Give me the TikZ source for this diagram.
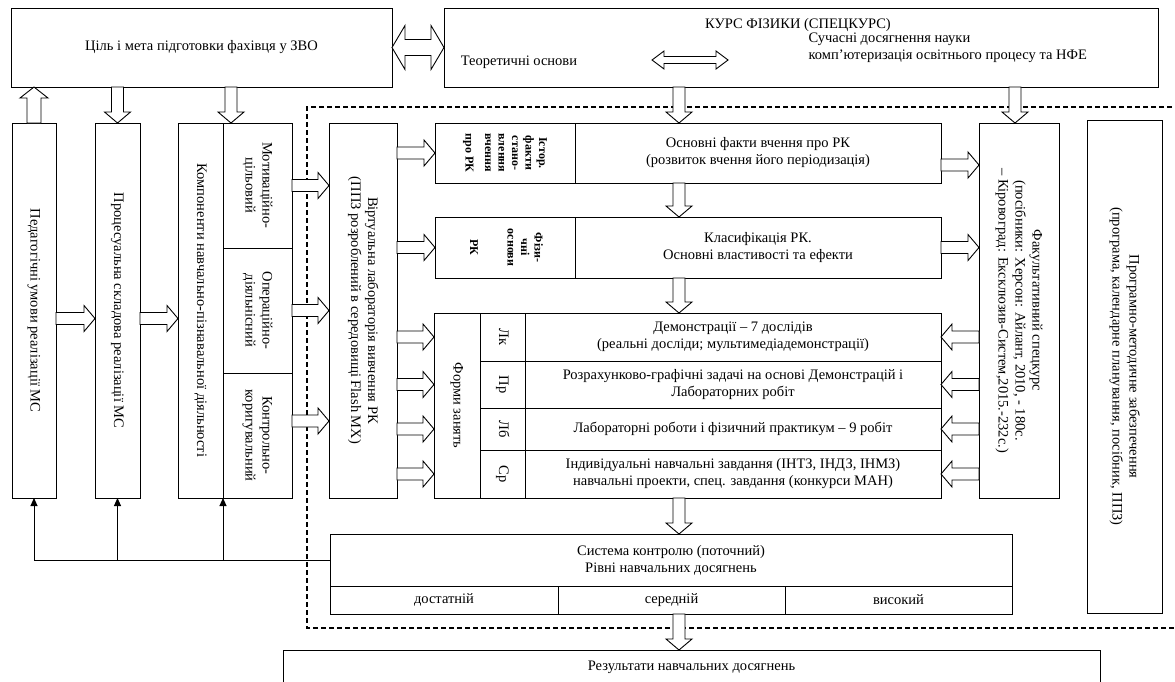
\documentclass[tikz,border=0pt]{standalone}
\usepackage{fontspec}
\setmainfont{Liberation Serif}
\usepackage{graphicx}
\usetikzlibrary{arrows.meta,calc}
% hollow arrow sizes: shaft half width, head half width, head length
\newcommand{\arW}{6}
\newcommand{\arH}{13}
\newcommand{\arL}{11}
\newcommand{\vtxt}[1]{\rotatebox{-90}{\begin{tabular}{@{}c@{}}#1\end{tabular}}}

\begin{document}
\begin{tikzpicture}[
  x=1pt, y=-1pt,
  every node/.style={font=\fontsize{14.5}{17}\selectfont},
  box/.style={draw, line width=1pt, inner sep=2pt, outer sep=0pt, align=center},
  wh/.style 2 args={minimum width=#1pt, minimum height=#2pt},
  small/.style={font=\bfseries\fontsize{12}{13.5}\selectfont},
  frame/.style={line width=1.2pt, dash pattern=on 5pt off 3pt},
  fb/.style={line width=0.9pt, -{Triangle[length=8pt, width=7pt]}},
  aw/.code={\def\arW{#1}}, ah/.code={\def\arH{#1}}, al/.code={\def\arL{#1}},
  blockarrow/.style={draw, fill=white, line width=0.9pt, line join=miter,
    to path={let \p1=(\tikztostart), \p2=(\tikztotarget),
      \n1={veclen(\x2-\x1,\y2-\y1)}, \n2={(\x2-\x1)/\n1}, \n3={(\y2-\y1)/\n1},
      \n4={\n1-\arL} in
      ({\x1-\arW*(\n3)},{\y1+\arW*(\n2)})
      -- ({\x1+\n4*(\n2)-\arW*(\n3)},{\y1+\n4*(\n3)+\arW*(\n2)})
      -- ({\x1+\n4*(\n2)-\arH*(\n3)},{\y1+\n4*(\n3)+\arH*(\n2)})
      -- (\p2)
      -- ({\x1+\n4*(\n2)+\arH*(\n3)},{\y1+\n4*(\n3)-\arH*(\n2)})
      -- ({\x1+\n4*(\n2)+\arW*(\n3)},{\y1+\n4*(\n3)-\arW*(\n2)})
      -- ({\x1+\arW*(\n3)},{\y1-\arW*(\n2)}) -- cycle}},
  dblockarrow/.style={draw, fill=white, line width=0.9pt, line join=miter,
    to path={let \p1=(\tikztostart), \p2=(\tikztotarget),
      \n1={veclen(\x2-\x1,\y2-\y1)}, \n2={(\x2-\x1)/\n1}, \n3={(\y2-\y1)/\n1},
      \n4={\n1-\arL} in
      (\p1)
      -- ({\x1+\arL*(\n2)-\arH*(\n3)},{\y1+\arL*(\n3)+\arH*(\n2)})
      -- ({\x1+\arL*(\n2)-\arW*(\n3)},{\y1+\arL*(\n3)+\arW*(\n2)})
      -- ({\x1+\n4*(\n2)-\arW*(\n3)},{\y1+\n4*(\n3)+\arW*(\n2)})
      -- ({\x1+\n4*(\n2)-\arH*(\n3)},{\y1+\n4*(\n3)+\arH*(\n2)})
      -- (\p2)
      -- ({\x1+\n4*(\n2)+\arH*(\n3)},{\y1+\n4*(\n3)-\arH*(\n2)})
      -- ({\x1+\n4*(\n2)+\arW*(\n3)},{\y1+\n4*(\n3)-\arW*(\n2)})
      -- ({\x1+\arL*(\n2)+\arW*(\n3)},{\y1+\arL*(\n3)-\arW*(\n2)})
      -- ({\x1+\arL*(\n2)+\arH*(\n3)},{\y1+\arL*(\n3)-\arH*(\n2)})
      -- cycle}}
]
  \fill[white] (0,0) rectangle (1175,681);
  \useasboundingbox (0,0) rectangle (1175,681);
  % dashed frame
  \draw[frame] (1180,107) -- (307,107) -- (307,628) -- (1180,628);
  % top row
  \node[box, wh={381}{79}] (goal) at (201.5,47.5) {Ціль і мета підготовки фахівця у ЗВО};
  \node[box, wh={714}{79}] (course) at (801,47.5) {};
  \node (ctitle) at (798,25) {КУРС ФІЗИКИ (СПЕЦКУРС)};
  \node (theory) at (519,62) {Теоретичні основи};
  \node[align=left, anchor=west] (modern) at (805,48) {Сучасні досягнення науки\\комп'ютеризація освітнього процесу та НФЕ};
  \coordinate (da1) at (652,60);
  \coordinate (da2) at (728,60);
  % left column
  \node[box, wh={44}{375}] (ped) at (34,310.5) {\vtxt{Педагогічні умови реалізації МС}};
  \node[box, wh={45}{375}] (proc) at (117.5,310.5) {\vtxt{Процесуальна складова реалізації МС}};
  \node[box, wh={45}{375}] (comp) at (200.5,310.5) {\vtxt{Компоненти навчально-пізнавальної діяльності}};
  \node[box, wh={69}{125}] (motiv) at (257.5,185.5) {\vtxt{Мотиваційно-\\цільовий}};
  \node[box, wh={69}{125}] (oper) at (257.5,310.5) {\vtxt{Операційно-\\діяльнісний}};
  \node[box, wh={69}{125}] (contr) at (257.5,435.5) {\vtxt{Контрольно-\\коригувальний}};
  \node[box, wh={68}{375}] (virt) at (363,310.5) {\vtxt{Віртуальна лабораторія вивчення РК\\(ППЗ розроблений в середовищі Flash MX)}};
  % content rows
  \node[box, small, wh={140}{60}] (hist) at (505,153) {\vtxt{Істор.\\факти\\стано-\\влення\\вчення\\[6pt]про РК}};
  \node[box, wh={366}{60}] (facts) at (758,153) {Основні факти вчення про РК\\(розвиток вчення його періодизація)};
  \node[box, small, wh={140}{61}] (phys) at (505,247.5) {\vtxt{Фізи-\\чні\\основи\\[24pt]РК}};
  \node[box, wh={366}{61}] (class) at (758,247.5) {Класифікація РК.\\Основні властивості та ефекти};
  \node[box, wh={46}{185}] (forms) at (457,405.5) {\vtxt{Форми занять}};
  \node[box, wh={45}{48}] (lk) at (502.5,337) {\vtxt{Лк}};
  \node[box, wh={416}{48}] (lkt) at (733,337) {Демонстрації – 7 дослідів\\(реальні досліди; мультимедіадемонстрації)};
  \node[box, wh={45}{47}] (pr) at (502.5,384.5) {\vtxt{Пр}};
  \node[box, wh={416}{47}] (prt) at (733,384.5) {Розрахунково-графічні задачі на основі Демонстрацій і\\Лабораторних робіт};
  \node[box, wh={45}{42}] (lb) at (502.5,429) {\vtxt{Лб}};
  \node[box, wh={416}{42}] (lbt) at (733,429) {Лабораторні роботи і фізичний практикум – 9 робіт};
  \node[box, wh={45}{48}] (sr) at (502.5,474) {\vtxt{Ср}};
  \node[box, wh={416}{48}] (srt) at (733,474) {Індивідуальні навчальні завдання (ІНТЗ, ІНДЗ, ІНМЗ)\\навчальні проекти, спец. завдання (конкурси МАН)};
  % right column
  \node[box, wh={80}{375}] (fac) at (1019,310.5) {\vtxt{Факультативний спецкурс\\(посібники: Херсон: Айлант, 2010, - 180с.\\– Кіровоград: Ексклюзив-Систем,2015.-232с.)}};
  \node[box, wh={75}{493}] (prog) at (1124.5,366.5) {\vtxt{Програмно-методичне забезпечення\\(програма, календарне планування, посібник, ППЗ)}};
  % control and results
  \node[box, wh={682}{52}] (sys) at (671,560) {Система контролю (поточний)\\Рівні навчальних досягнень};
  \node[box, wh={228}{28}] (lev1) at (444,600) {достатній};
  \node[box, wh={227}{28}] (lev2) at (671.5,600) {середній};
  \node[box, wh={227}{28}] (lev3) at (898.5,600) {високий};
  \node[box, wh={817}{34}] (res) at (691.5,667) {Результати навчальних досягнень};
  % hollow arrows
  \coordinate (cx) at (679,0);
  \coordinate (fx) at (1015,0);
  \coordinate (kx) at (231,0);
  \coordinate (fa) at (941,165);
  \coordinate (ca) at (292,421);
  \draw[dblockarrow, aw=8, ah=22, al=13] (goal.east) to (course.west);
  \draw[dblockarrow, aw=3.5, ah=9, al=12] (da1) to (da2);
  \draw[blockarrow, aw=7, ah=14] (ped.north) to (goal.south -| ped.north);
  \draw[blockarrow] (goal.south -| proc.north) to (proc.north);
  \draw[blockarrow] (goal.south -| kx) to (motiv.north -| kx);
  \draw[blockarrow] ([yshift=-8pt]ped.east) to ([yshift=-8pt]proc.west);
  \draw[blockarrow] ([yshift=-8pt]proc.east) to ([yshift=-8pt]comp.west);
  \draw[blockarrow] (motiv.east) to (virt.west |- motiv.east);
  \draw[blockarrow] (oper.east) to (virt.west |- oper.east);
  \draw[blockarrow] (ca) to (virt.west |- ca);
  \draw[blockarrow] (virt.east |- hist.west) to (hist.west);
  \draw[blockarrow] (virt.east |- phys.west) to (phys.west);
  \foreach \row in {lk,pr,lb,sr}
    \draw[blockarrow] (virt.east |- \row.west) to (forms.west |- \row.west);
  \draw[blockarrow] (course.south -| cx) to (facts.north -| cx);
  \draw[blockarrow] (facts.south -| cx) to (class.north -| cx);
  \draw[blockarrow] (class.south -| cx) to (lkt.north -| cx);
  \draw[blockarrow] (srt.south -| cx) to (sys.north -| cx);
  \draw[blockarrow] (lev2.south -| cx) to (res.north -| cx);
  \draw[blockarrow] (course.south -| fx) to (fac.north -| fx);
  \draw[blockarrow] (fa) to (fac.west |- fa);
  \draw[blockarrow] (class.east) to (fac.west |- class.east);
  \foreach \row in {lkt,prt,lbt,srt}
    \draw[blockarrow] (fac.west |- \row.east) to (\row.east);
  % feedback from control
  \draw[line width=0.9pt] (sys.west) -- (ped.south |- sys.west);
  \draw[fb] (ped.south |- sys.west) -- (ped.south);
  \draw[fb] (proc.south |- sys.west) -- (proc.south);
  \draw[fb] (comp.south east |- sys.west) -- (comp.south east);
\end{tikzpicture}
\end{document}
